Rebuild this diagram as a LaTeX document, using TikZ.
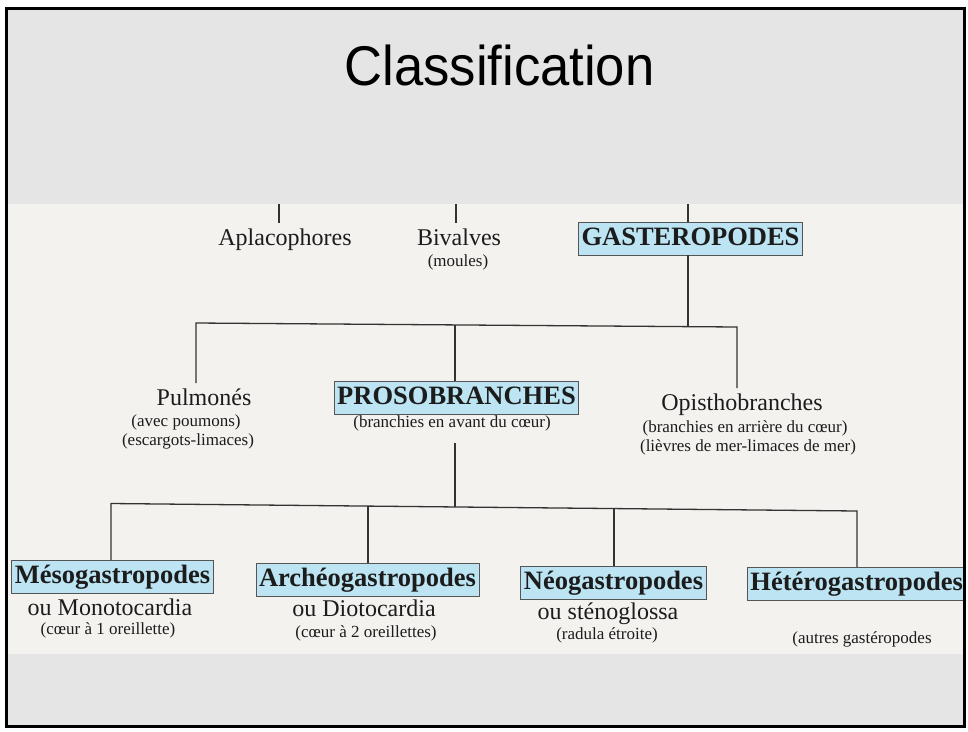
\documentclass[tikz,border=0pt]{standalone}
\usepackage{fontspec}
\setmainfont{Liberation Serif}
\newfontfamily\slidefont[FakeStretch=0.94]{Liberation Sans}
\definecolor{slidegrey}{HTML}{E5E5E5}
\definecolor{paper}{HTML}{F4F2EF}
\definecolor{boxblue}{HTML}{BCE4F2}
\definecolor{ink}{HTML}{1C1C1C}

\begin{document}
\begin{tikzpicture}[x=1pt, y=-1pt,
  group/.style={inner xsep=0, inner ysep=5pt, text=ink, font=\fontsize{24}{28}\selectfont},
  note/.style={inner sep=0, text=ink, font=\fontsize{17}{20}\selectfont},
  taxon/.style={draw=ink!75, line width=0.9pt, fill=boxblue, inner xsep=3pt, inner ysep=2.5pt,
    text height=21pt, text depth=6.5pt, text=ink, font=\bfseries\fontsize{26.5}{30}\selectfont},
  branch/.style={draw=ink!90, line width=1.3pt}]
\useasboundingbox (0,0) rectangle (968,731);
\fill[slidegrey] (5,7) rectangle (966,728);
\node[anchor=base, font=\slidefont\fontsize{56}{60}\selectfont] (title) at (499.5,85) {Classification};

% scanned chart
\begin{scope}
\clip (8,204) rectangle (963,654);
\fill[paper] (8,204) rectangle (963,654);

% first row
\node[group, anchor=base] (apla) at (285,245) {Aplacophores};
\node[group, anchor=base] (biv) at (459,245) {Bivalves};
\node[note] (bivNote) at (458,262.5) {(moules)};
\node[taxon, anchor=north] (gastero) at (690.5,222) {GASTEROPODES};

% second row
\node[group, anchor=base] (pulmo) at (204,405) {Pulmonés};
\node[note] (pulmoNoteA) at (186,422.5) {(avec poumons)};
\node[note] (pulmoNoteB) at (188,441.5) {(escargots-limaces)};
\node[taxon, anchor=north] (proso) at (456.5,381) {PROSOBRANCHES};
\node[note] (prosoNote) at (452,423.7) {(branchies en avant du cœur)};
\node[group, anchor=base] (opistho) at (742,410) {Opisthobranches};
\node[note] (opisthoNoteA) at (745,428.3) {(branchies en arrière du cœur)};
\node[note] (opisthoNoteB) at (748,447) {(lièvres de mer-limaces de mer)};

% third row
\node[taxon, anchor=north] (meso) at (112.5,560) {Mésogastropodes};
\node[group, anchor=base] (mesoAlt) at (110,615) {ou Monotocardia};
\node[note] (mesoNote) at (108,630) {(cœur à 1 oreillette)};
\node[taxon, anchor=north] (archeo) at (367.5,563) {Archéogastropodes};
\node[group, anchor=base] (archeoAlt) at (364,616) {ou Diotocardia};
\node[note] (archeoNote) at (366,633) {(cœur à 2 oreillettes)};
\node[taxon, anchor=north] (neo) at (613.5,566) {Néogastropodes};
\node[group, anchor=base] (neoAlt) at (608,619) {ou sténoglossa};
\node[note] (neoNote) at (607,635) {(radula étroite)};
\node[taxon, anchor=north west] (hetero) at (747,567) {Hétérogastropodes};
\node[note] (heteroNote) at (862,639) {(autres gastéropodes};

% stubs from the top edge
\coordinate (aplaTop) at (279,204);
\coordinate (bivTop) at (456,204);
\coordinate (gasteroTop) at (688,204);
\draw[branch] (aplaTop) -- (apla.north -| aplaTop);
\draw[branch] (bivTop) -- (biv.north -| bivTop);
\draw[branch] (gasteroTop) -- (gastero.north -| gasteroTop);

% gasteropodes bar
\coordinate (barL) at (196,323);
\coordinate (barR) at (737,327);
\coordinate (hubP) at (455,324.9);
\coordinate (hubG) at (688,326.6);
\draw[branch] (pulmo.north -| barL) -- (barL) -- (barR) -- (opistho.north -| barR);
\draw[branch] (gastero.south -| hubG) -- (hubG);
\draw[branch] (hubP) -- (proso.north -| hubP);

% prosobranches bar
\coordinate (prosoStem) at (455,443);
\coordinate (lowL) at (111,503.5);
\coordinate (lowR) at (857,511);
\coordinate (hubPr) at (455,507);
\coordinate (hubA) at (368,506.1);
\coordinate (hubN) at (614,508.6);
\draw[branch] (prosoStem) -- (hubPr);
\draw[branch] (meso.north -| lowL) -- (lowL) -- (lowR) -- (hetero.north -| lowR);
\draw[branch] (hubA) -- (archeo.north -| hubA);
\draw[branch] (hubN) -- (neo.north -| hubN);
\end{scope}

\draw[line width=3pt] (6.5,8) rectangle (964.5,726.5);
\end{tikzpicture}
\end{document}
